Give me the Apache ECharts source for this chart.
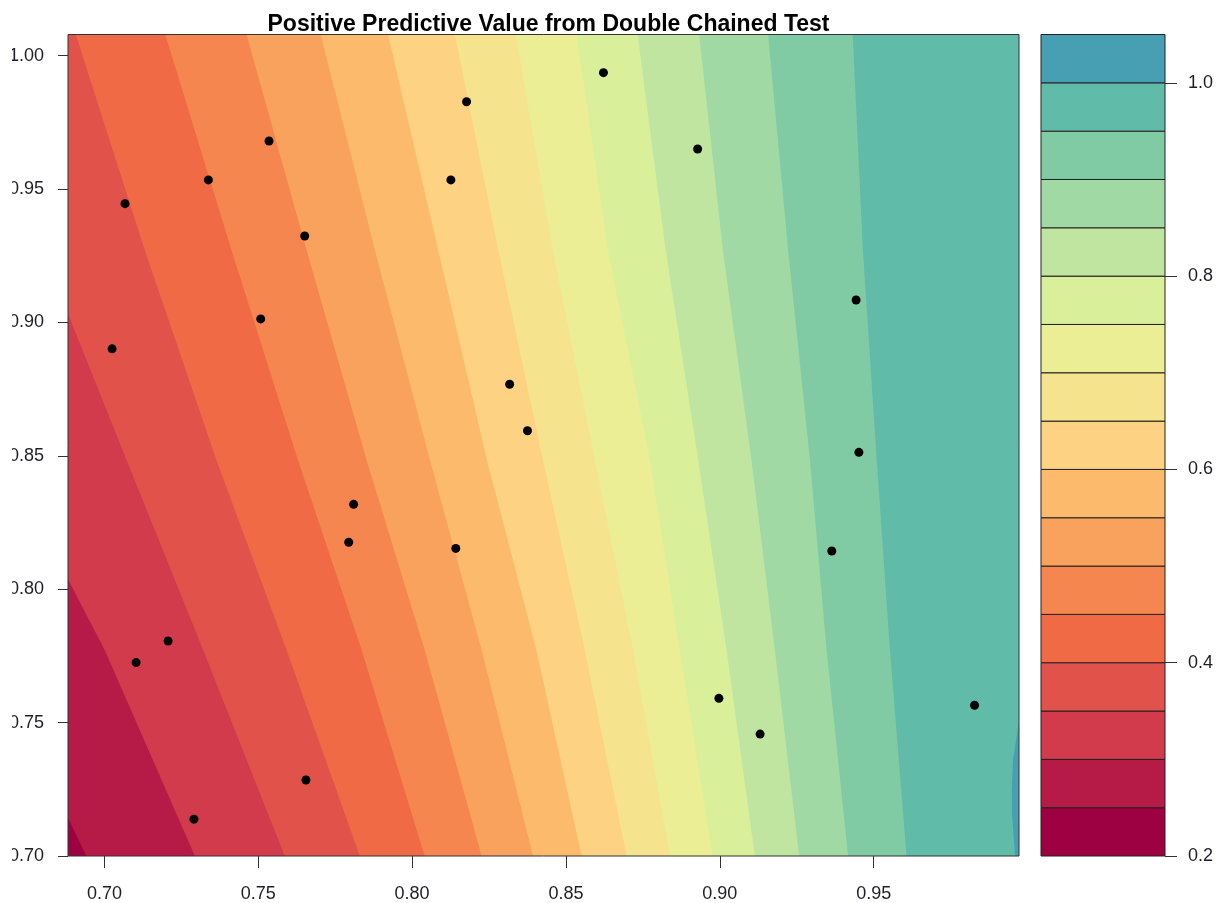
<!DOCTYPE html>
<html>
<head>
<meta charset="utf-8">
<script src="https://cdn.jsdelivr.net/npm/echarts@6/dist/echarts.min.js"></script>
<style>
html,body{margin:0;padding:0;background:#ffffff;}
#chart{width:1223px;height:903px;}
</style>
</head>
<body>
<div id="chart"></div>
<script>
// ---------------- data ----------------
const titleText = 'Positive Predictive Value from Double Chained Test';

// contour level edges (colour key)
const levels = [0.20,0.25,0.30,0.35,0.40,0.45,0.50,0.55,0.60,0.65,0.70,0.75,0.80,0.85,0.90,0.95,1.00,1.05];
const bandColors = ['#9E0142','#B61B47','#D13B4C','#E1524A','#F06A46','#F6864F','#F9A25D','#FCBA6C',
                    '#FDD282','#F5E38D','#EBEE94','#D9EF99','#BFE5A0','#A0D9A3','#80CBA4','#60BBA9','#479FB3'];

// axis tick labels
const xTicks = [0.70,0.75,0.80,0.85,0.90,0.95];
const yTicks = [0.70,0.75,0.80,0.85,0.90,0.95,1.00];
const keyTicks = [0.2,0.4,0.6,0.8,1.0];
const xRange = [0.68817, 0.99724];
const yRange = [0.70, 1.00791];

// contour boundaries: x position of each level line at the rows in rowY
const rowY = [1.00791, 0.9271, 0.8484, 0.7772, 0.70];
const boundaryLevels = [0.25,0.30,0.35,0.40,0.45,0.50,0.55,0.60,0.65,0.70,0.75,0.80,0.85,0.90,0.95];
const boundaryX = [
  [0.5759, 0.6052, 0.6344, 0.6621, 0.6941], // 0.25
  [0.6045, 0.6361, 0.6681, 0.7001, 0.7294], // 0.30
  [0.6520, 0.6799, 0.7072, 0.7321, 0.7586], // 0.35
  [0.6907, 0.7131, 0.7364, 0.7592, 0.7830], // 0.40
  [0.7198, 0.7413, 0.7629, 0.7836, 0.8041], // 0.45
  [0.7462, 0.7657, 0.7852, 0.8041, 0.8226], // 0.50
  [0.7703, 0.7879, 0.8058, 0.8226, 0.8393], // 0.55
  [0.7922, 0.8085, 0.8243, 0.8404, 0.8551], // 0.60
  [0.8139, 0.8280, 0.8425, 0.8561, 0.8697], // 0.65
  [0.8337, 0.8457, 0.8594, 0.8718, 0.8838], // 0.70
  [0.8535, 0.8636, 0.8773, 0.8870, 0.8977], // 0.75
  [0.8733, 0.8824, 0.8930, 0.9022, 0.9114], // 0.80
  [0.8933, 0.9010, 0.9103, 0.9179, 0.9258], // 0.85
  [0.9157, 0.9222, 0.9293, 0.9347, 0.9417], // 0.90
  [0.9432, 0.9465, 0.9510, 0.9553, 0.9607]  // 0.95
];
// small region above 1.0 at the right edge
const blobLevel = 1.00;
const blobX = [1.0008, 0.9972, 0.9963, 0.9953, 0.9949, 0.9950, 0.9956, 0.9961, 1.0008];
const blobY = [0.7528, 0.7502, 0.7435, 0.7360, 0.7247, 0.7154, 0.7060, 0.6985, 0.6985];

// observed points
const pointsX = [0.7067,0.7338,0.7535,0.7651,0.7508,0.7025,0.8177,0.8622,0.8126,0.8928,0.8317,0.8375,0.9443,
                 0.9452,0.7810,0.7794,0.8142,0.9364,0.7207,0.7103,0.8997,0.9131,0.9828,0.7655,0.7291];
const pointsY = [0.9445,0.9534,0.9680,0.9324,0.9013,0.8901,0.9827,0.9936,0.9534,0.9650,0.8768,0.8594,0.9084,
                 0.8513,0.8318,0.8176,0.8153,0.8143,0.7806,0.7725,0.7591,0.7457,0.7565,0.7285,0.7138];

// ---------------- chart ----------------
const FONT = '"Liberation Sans", Arial, sans-serif';
const TXT = '#1e1e28';

function bandIndex(level) { return Math.round((level - levels[0]) / 0.05); }

// items: 0 = background, 1..N = boundaries, N+1 = blob, N+2 = frame
const contourItems = [];
for (let k = 0; k < boundaryLevels.length + 3; k++) contourItems.push([k]);

function renderContour(params, api) {
  const k = api.value(0);
  const cs = params.coordSys;
  const clip = {type: 'rect', shape: {x: cs.x, y: cs.y, width: cs.width, height: cs.height}};
  const nB = boundaryLevels.length;
  if (k === 0) {
    return {type: 'rect', shape: {x: cs.x, y: cs.y, width: cs.width, height: cs.height},
            style: {fill: bandColors[0]}};
  }
  if (k <= nB) {
    const j = k - 1;
    const pts = rowY.map((yv, r) => api.coord([boundaryX[j][r], yv]));
    const farX = xRange[1] + 0.05;
    pts.push(api.coord([farX, rowY[rowY.length - 1]]));
    pts.push(api.coord([farX, rowY[0]]));
    return {type: 'polygon', shape: {points: pts}, clipPath: clip,
            style: {fill: bandColors[bandIndex(boundaryLevels[j])]}};
  }
  if (k === nB + 1) {
    const pts = blobX.map((xv, i) => api.coord([xv, blobY[i]]));
    return {type: 'polygon', shape: {points: pts}, clipPath: clip,
            style: {fill: bandColors[bandIndex(blobLevel)]}};
  }
  return {type: 'rect', shape: {x: cs.x, y: cs.y, width: cs.width, height: cs.height},
          style: {fill: 'none', stroke: '#333333', lineWidth: 1}};
}

const keyItems = [];
for (let i = 0; i < bandColors.length; i++) keyItems.push([i]);
function renderKey(params, api) {
  const i = api.value(0);
  const p1 = api.coord([0, levels[i + 1]]);
  const p2 = api.coord([1, levels[i]]);
  return {type: 'rect', shape: {x: p1[0], y: p1[1], width: p2[0] - p1[0], height: p2[1] - p1[1]},
          style: {fill: bandColors[i], stroke: '#222222', lineWidth: 1}};
}

const chart = echarts.init(document.getElementById('chart'), null, {renderer: 'canvas'});
chart.setOption({
  backgroundColor: '#ffffff',
  animation: false,
  title: {
    text: titleText, left: 543.5, top: 8, textAlign: 'center',
    textStyle: {fontFamily: FONT, fontWeight: 'bold', fontSize: 23, color: '#000000'}
  },
  grid: [
    {left: 68, top: 34.5, width: 951, height: 821.5},
    {left: 1041, top: 34.5, width: 124, height: 821.5}
  ],
  xAxis: [
    {type: 'value', gridIndex: 0, min: xRange[0], max: xRange[1],
     axisLine: {show: false, onZero: false}, splitLine: {show: false},
     axisTick: {show: true, length: 12, customValues: xTicks, lineStyle: {color: '#333333'}},
     axisLabel: {customValues: xTicks, margin: 29, formatter: v => v.toFixed(2),
                 fontFamily: FONT, fontSize: 18, color: TXT}},
    {type: 'value', gridIndex: 1, min: 0, max: 1, show: false}
  ],
  yAxis: [
    {type: 'value', gridIndex: 0, min: yRange[0], max: yRange[1],
     axisLine: {show: false, onZero: false}, splitLine: {show: false},
     axisTick: {show: true, length: 10, customValues: yTicks, lineStyle: {color: '#333333'}},
     axisLabel: {customValues: yTicks, margin: 24, formatter: v => v.toFixed(2),
                 fontFamily: FONT, fontSize: 18, color: TXT}},
    {type: 'value', gridIndex: 1, min: levels[0], max: levels[levels.length - 1], position: 'right',
     axisLine: {show: false, onZero: false}, splitLine: {show: false},
     axisTick: {show: true, length: 12, customValues: keyTicks, lineStyle: {color: '#333333'}},
     axisLabel: {customValues: keyTicks, margin: 23, formatter: v => v.toFixed(1),
                 fontFamily: FONT, fontSize: 18, color: TXT}}
  ],
  series: [
    {type: 'custom', xAxisIndex: 0, yAxisIndex: 0, data: contourItems, renderItem: renderContour,
     silent: true, z: 1},
    {type: 'scatter', xAxisIndex: 0, yAxisIndex: 0, symbol: 'circle', symbolSize: 9,
     itemStyle: {color: '#000000', opacity: 1}, z: 5, silent: true,
     data: pointsX.map((x, i) => [x, pointsY[i]])},
    {type: 'custom', xAxisIndex: 1, yAxisIndex: 1, data: keyItems, renderItem: renderKey,
     silent: true, z: 1}
  ],
  graphic: [
    {type: 'rect', left: 0, top: 0, shape: {width: 12, height: 903}, style: {fill: '#ffffff'}, z: 100}
  ]
});
</script>
</body>
</html>
